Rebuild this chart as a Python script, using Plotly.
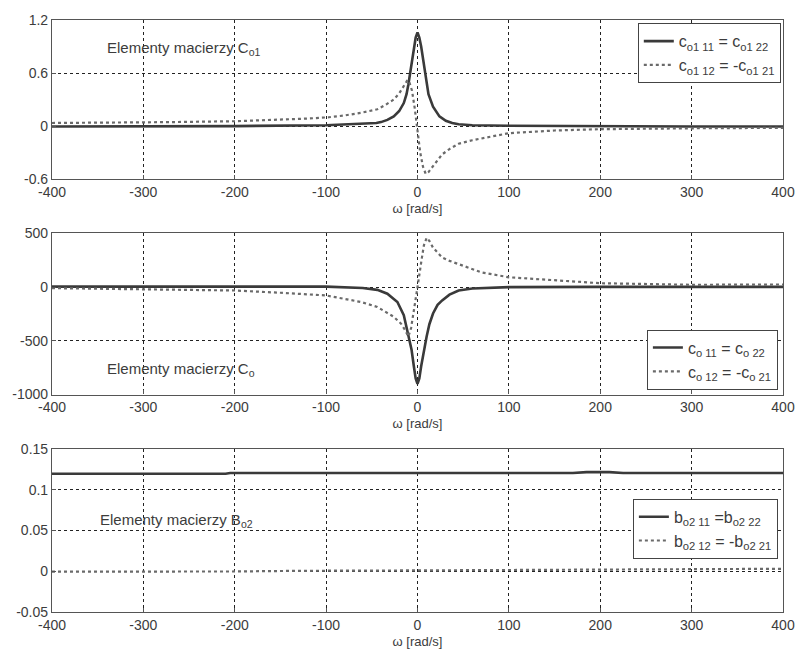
import plotly.graph_objects as go
from plotly.subplots import make_subplots

# ---------------- data ----------------
# Panel 1: elements of matrix C_o1
w1_11 = [-400, -300, -200, -100, -60, -45, -40, -33, -26, -20, -15, -12, -10, -8, -6, -4, -2, 0,
         2, 4, 6, 8, 10, 12, 17, 24, 31, 38, 45, 60, 100, 200, 300, 400]
c_o1_11 = [-0.005, -0.003, 0.0, 0.01, 0.025, 0.035, 0.045, 0.07, 0.11, 0.17, 0.26, 0.36, 0.47, 0.6, 0.76, 0.9, 1.0, 1.06,
           1.0, 0.9, 0.76, 0.6, 0.46, 0.36, 0.22, 0.11, 0.06, 0.035, 0.02, 0.01, 0.003, -0.003, -0.005, -0.005]

w1_12 = [-400, -300, -270, -200, -150, -120, -97, -80, -62, -44, -35, -26, -20, -16, -13, -11, -9, -6, -3, 0,
         3, 6, 9, 12, 17, 22, 27, 35, 45, 60, 74, 100, 150, 200, 300, 400]
c_o1_12 = [0.035, 0.037, 0.045, 0.055, 0.07, 0.085, 0.1, 0.12, 0.15, 0.19, 0.24, 0.3, 0.37, 0.44, 0.5, 0.52, 0.5, 0.4, 0.2, -0.05,
           -0.3, -0.46, -0.54, -0.52, -0.45, -0.38, -0.32, -0.26, -0.2, -0.16, -0.13, -0.08, -0.05, -0.035, -0.025, -0.02]

# Panel 2: elements of matrix C_o
w2_11 = [-400, -300, -200, -100, -60, -44, -33, -22, -15, -12, -9, -6.5, -4, -2, 0,
         2, 4, 7, 10, 13, 17, 22, 27, 35, 45, 60, 100, 200, 300, 400]
c_o_11 = [5, 6, 7, 5, -8, -25, -61, -138, -260, -368, -491, -583, -736, -850, -900,
          -850, -736, -590, -460, -345, -245, -165, -123, -70, -31, -12, 0, 3, 3, 3]

w2_12 = [-400, -300, -200, -150, -100, -62, -44, -26, -18, -13.5, -10, -7, -4, 0,
         4, 7, 10, 13, 17, 22, 27, 35, 45, 70, 100, 150, 200, 300, 400]
c_o_12 = [-9, -18, -31, -52, -77, -138, -184, -276, -340, -400, -460, -380, -230, 0,
          230, 390, 460, 430, 368, 320, 276, 245, 215, 138, 92, 62, 37, 22, 25]

# Panel 3: elements of matrix B_o2
w3_11 = [-400, -300, -210, -205, -100, 0, 100, 170, 185, 210, 225, 300, 400]
b_o2_11 = [0.1195, 0.1195, 0.1195, 0.1205, 0.1205, 0.1205, 0.1205, 0.1205, 0.1215, 0.1215, 0.1205, 0.1205, 0.1205]

w3_12 = [-400, -300, -200, -130, -50, 0, 100, 200, 300, 400]
b_o2_12 = [-0.0005, -0.0005, -0.0003, 0.0005, 0.0005, 0.001, 0.0015, 0.002, 0.003, 0.003]

x_ticks = [-400, -300, -200, -100, 0, 100, 200, 300, 400]
y1_ticks = [-0.6, 0, 0.6, 1.2]
y2_ticks = [-1000, -500, 0, 500]
y3_ticks = [-0.05, 0, 0.05, 0.1, 0.15]
y3_labels = ["-0.05", "0", "0.05", "0.1", "0.15"]

# ---------------- figure ----------------
FONT = "Liberation Sans Narrow, Arial Narrow, Liberation Sans, Arial, sans-serif"
TXT = "#3c3c3c"
SOLID = "#3a3a3a"
DOTC = "#6a6a6a"

fig = make_subplots(rows=3, cols=1, shared_xaxes=False, vertical_spacing=0.09)

def solid(x, y, name, leg):
    return go.Scatter(x=x, y=y, mode="lines", name=name, legend=leg,
                      line=dict(color=SOLID, width=2.6))

def dotted(x, y, name, leg):
    return go.Scatter(x=x, y=y, mode="lines", name=name, legend=leg,
                      line=dict(color=DOTC, width=2.2, dash="dot"))

fig.add_trace(solid(w1_11, c_o1_11, "c<sub>o1 11</sub> = c<sub>o1 22</sub>", "legend"), 1, 1)
fig.add_trace(dotted(w1_12, c_o1_12, "c<sub>o1 12</sub> = -c<sub>o1 21</sub>", "legend"), 1, 1)
fig.add_trace(solid(w2_11, c_o_11, "c<sub>o 11</sub> = c<sub>o 22</sub>", "legend2"), 2, 1)
fig.add_trace(dotted(w2_12, c_o_12, "c<sub>o 12</sub> = -c<sub>o 21</sub>", "legend2"), 2, 1)
fig.add_trace(solid(w3_11, b_o2_11, "b<sub>o2 11</sub> =b<sub>o2 22</sub>", "legend3"), 3, 1)
fig.add_trace(dotted(w3_12, b_o2_12, "b<sub>o2 12</sub> = -b<sub>o2 21</sub>", "legend3"), 3, 1)

domains = [[0.7312, 1.0], [0.3673, 0.6394], [0.0, 0.2755]]
yranges = [[-0.6, 1.2], [-1000, 500], [-0.05, 0.15]]
yticks = [(y1_ticks, ["-0.6", "0", "0.6", "1.2"]),
          (y2_ticks, ["-1000", "-500", "0", "500"]),
          (y3_ticks, y3_labels)]

axis_common = dict(showline=True, linecolor="#555555", linewidth=1.2, mirror=True,
                   ticks="inside", ticklen=4, tickcolor="#555555",
                   showgrid=True, gridcolor="#222222", gridwidth=1, griddash="3px,3px",
                   zeroline=False, tickfont=dict(family=FONT, size=14, color=TXT))

for i in range(3):
    r = i + 1
    fig.update_xaxes(range=[-400, 400], tickvals=x_ticks,
                     ticktext=[str(v) for v in x_ticks],
                     title=dict(text="ω [rad/s]", font=dict(family=FONT, size=13, color=TXT), standoff=4),
                     row=r, col=1, **axis_common)
    fig.update_yaxes(range=yranges[i], domain=domains[i], tickvals=yticks[i][0], ticktext=yticks[i][1],
                     row=r, col=1, **axis_common)

ann_font = dict(family=FONT, size=15, color=TXT)
fig.add_annotation(x=-342, y=0.88, xref="x", yref="y", xanchor="left", yanchor="middle",
                   text="Elementy macierzy C<sub>o1</sub>", showarrow=False, font=ann_font)
fig.add_annotation(x=-342, y=-769, xref="x2", yref="y2", xanchor="left", yanchor="middle",
                   text="Elementy macierzy C<sub>o</sub>", showarrow=False, font=ann_font)
fig.add_annotation(x=-350, y=0.0626, xref="x3", yref="y3", xanchor="left", yanchor="middle",
                   text="Elementy macierzy B<sub>o2</sub>", showarrow=False, font=ann_font)

leg_common = dict(bgcolor="white", bordercolor="#444444", borderwidth=1,
                  font=dict(family=FONT, size=16, color=TXT), xanchor="right", itemwidth=30)

fig.update_layout(
    width=807, height=661,
    margin=dict(l=49, r=16, t=13, b=49),
    paper_bgcolor="white", plot_bgcolor="white",
    showlegend=True,
    legend=dict(x=0.997, y=0.9946, yanchor="top", **leg_common),
    legend2=dict(x=0.993, y=0.3757, yanchor="bottom", **leg_common),
    legend3=dict(x=0.993, y=0.1912, yanchor="top", **leg_common),
)

# remove the browser's default 8px body margin so the figure fills the window exactly
fig.write_html("out.html", config={"displayModeBar": False},
               post_script="document.body.style.margin='0';document.body.style.overflow='hidden';")
